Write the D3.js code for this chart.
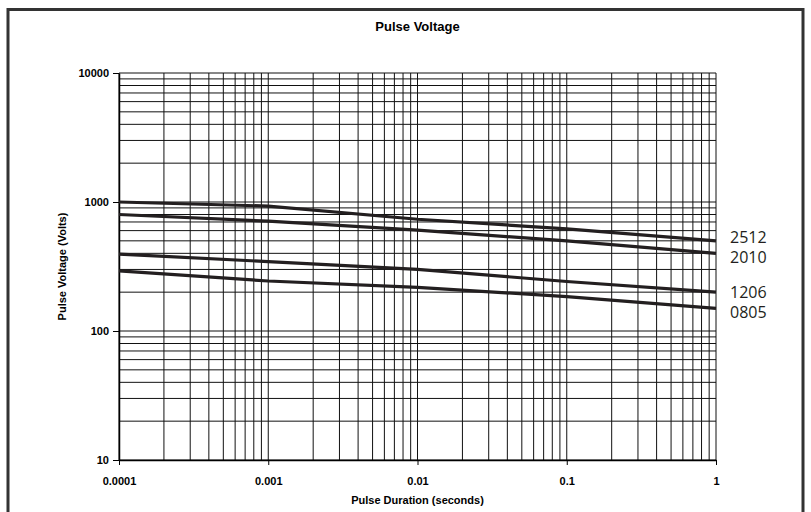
<!DOCTYPE html>
<html>
<head>
<meta charset="utf-8">
<script src="https://cdn.jsdelivr.net/npm/d3@7"></script>
<style>
  body { margin: 0; background: #fff; }
  text { font-family: "Liberation Sans", Arial, sans-serif; }
</style>
</head>
<body>
<div id="chart"></div>
<script>
var svgWidth = 811;
var svgHeight = 512;

var margin = { top: 73, right: 95, bottom: 52, left: 119 };
var width = 716 - margin.left;
var height = 460 - margin.top;

// pulse durations (s) read at each decade
var durations = [0.0001, 0.001, 0.01, 0.1, 1];

// pulse voltage per chip size (V)
var v2512 = [1000, 930, 735, 620, 500];
var v2010 = [800, 710, 605, 500, 400];
var v1206 = [395, 345, 300, 242, 200];
var v0805 = [292, 244, 218, 185, 150];

var seriesNames = ["2512", "2010", "1206", "0805"];
var seriesValues = [v2512, v2010, v1206, v0805];

var xTickLabels = ["0.0001", "0.001", "0.01", "0.1", "1"];
var yTickLabels = ["10", "100", "1000", "10000"];

var svg = d3.select("#chart")
  .append("svg")
  .attr("width", svgWidth)
  .attr("height", svgHeight);

// outer frame
svg.append("rect")
  .attr("x", 8)
  .attr("y", 9.5)
  .attr("width", 795)
  .attr("height", 520)
  .attr("fill", "none")
  .attr("stroke", "#333")
  .attr("stroke-width", 3);

var chartGroup = svg.append("g")
  .attr("transform", `translate(${margin.left}, ${margin.top})`);

var x = d3.scaleLog().domain([0.0001, 1]).range([0, width]);
var y = d3.scaleLog().domain([10, 10000]).range([height, 0]);

// minor grid values
var xGrid = [];
[0.0001, 0.001, 0.01, 0.1].forEach(function(d) {
  for (var i = 1; i <= 9; i++) xGrid.push(d * i);
});
xGrid.push(1);
var yGrid = [];
[10, 100, 1000].forEach(function(d) {
  for (var i = 1; i <= 9; i++) yGrid.push(d * i);
});
yGrid.push(10000);

chartGroup.selectAll(".vgrid")
  .data(xGrid)
  .enter()
  .append("line")
  .attr("x1", d => x(d))
  .attr("x2", d => x(d))
  .attr("y1", 0)
  .attr("y2", height)
  .attr("stroke", "#111")
  .attr("stroke-width", 1);

chartGroup.selectAll(".hgrid")
  .data(yGrid)
  .enter()
  .append("line")
  .attr("x1", 0)
  .attr("x2", width)
  .attr("y1", d => y(d))
  .attr("y2", d => y(d))
  .attr("stroke", "#111")
  .attr("stroke-width", 1);

// axes
var bottomAxis = d3.axisBottom(x)
  .tickValues(xTickLabels.map(Number))
  .tickFormat((d, i) => xTickLabels[i])
  .tickSizeInner(5)
  .tickSizeOuter(0)
  .tickPadding(12);

var leftAxis = d3.axisLeft(y)
  .tickValues(yTickLabels.map(Number))
  .tickFormat((d, i) => yTickLabels[i])
  .tickSizeInner(6)
  .tickSizeOuter(0)
  .tickPadding(4);

var xAxis = chartGroup.append("g")
  .attr("transform", `translate(0, ${height})`)
  .call(bottomAxis);

var yAxis = chartGroup.append("g")
  .call(leftAxis);

[xAxis, yAxis].forEach(function(ax) {
  ax.selectAll("path").attr("stroke", "#000").attr("stroke-width", 1.5);
  ax.selectAll("line").attr("stroke", "#000");
  ax.selectAll("text")
    .attr("fill", "#000")
    .style("font-size", "11px")
    .style("font-weight", "bold")
    .style("font-family", "'Liberation Sans', Arial, sans-serif");
});

// data lines
var line = d3.line()
  .x((d, i) => x(durations[i]))
  .y(d => y(d));

chartGroup.selectAll(".series")
  .data(seriesValues)
  .enter()
  .append("path")
  .attr("d", d => line(d))
  .attr("fill", "none")
  .attr("stroke", "#231f20")
  .attr("stroke-width", 3.2);

// series labels at the right end (baseline offset from the line end)
var labelOffsets = [2, 10, 6, 10];
chartGroup.selectAll(".slabel")
  .data(seriesNames)
  .enter()
  .append("text")
  .attr("x", width + 14)
  .attr("y", (d, i) => y(seriesValues[i][seriesValues[i].length - 1]) + labelOffsets[i])
  .text(d => d)
  .style("font-family", "'Open Sans', 'Noto Sans', sans-serif")
  .style("font-size", "16px")
  .attr("fill", "#231f20");

// title and axis labels
svg.append("text")
  .attr("x", margin.left + width / 2)
  .attr("y", 31)
  .attr("text-anchor", "middle")
  .style("font-size", "13px")
  .style("font-weight", "bold")
  .text("Pulse Voltage");

svg.append("text")
  .attr("x", margin.left + width / 2)
  .attr("y", 504)
  .attr("text-anchor", "middle")
  .style("font-size", "11px")
  .style("font-weight", "bold")
  .text("Pulse Duration (seconds)");

svg.append("text")
  .attr("transform", `translate(66, ${margin.top + height / 2}) rotate(-90)`)
  .attr("text-anchor", "middle")
  .style("font-size", "11px")
  .style("font-weight", "bold")
  .text("Pulse Voltage (Volts)");
</script>
</body>
</html>
